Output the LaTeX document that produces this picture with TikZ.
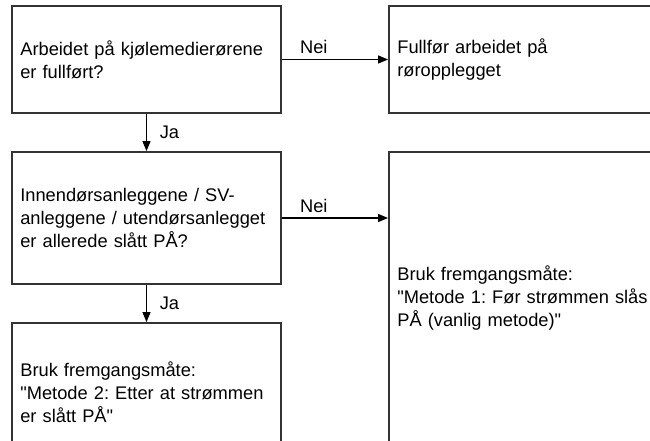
\documentclass[tikz,border=0pt]{standalone}
\usepackage{fontspec}
\setmainfont{Liberation Sans}
\usetikzlibrary{arrows.meta}
\frenchspacing
\hyphenpenalty=10000

\begin{document}
\begin{tikzpicture}[
  >={Triangle[length=3mm,width=2.4mm]},
  every node/.style={font=\fontsize{15.6}{19.4}\selectfont},
  frame/.style={draw=black!80,line width=1.6pt,align=left,inner xsep=0.25cm,inner ysep=0pt},
  leftbox/.style={frame,text width=7.57cm},
  rightbox/.style={frame,text width=8.5cm},
  flow/.style={->,draw=black,line width=1.1pt},
]
\useasboundingbox (0,0) rectangle (19.5,-13.23);

\node[leftbox,minimum height=3.21cm] (pipesdone) at (4.395,-1.785)
  {Arbeidet på kjølemedierørene\\er fullført?};
\node[rightbox,minimum height=3.21cm] (finishpipes) at (16.17,-1.785)
  {Fullfør arbeidet på\\røropplegget};
\node[leftbox,minimum height=3.96cm] (poweron) at (4.395,-6.54)
  {Innendørsanleggene / SV-\\anleggene / utendørsanlegget\\er allerede slått PÅ?};
\node[rightbox,minimum height=8.76cm] (methodone) at (16.17,-8.94)
  {Bruk fremgangsmåte:\\\textquotedbl Metode 1: Før strømmen slås\\PÅ (vanlig metode)\textquotedbl};
\node[leftbox,minimum height=4.14cm] (methodtwo) at (4.395,-11.76)
  {Bruk fremgangsmåte:\\\textquotedbl Metode 2: Etter at strømmen\\er slått PÅ\textquotedbl};

\draw[flow] (pipesdone.east) -- node[above,pos=0.3,yshift=1pt] {Nei} (finishpipes.west);
\draw[flow] (poweron.east) -- node[above,pos=0.3,yshift=1pt] {Nei} (poweron.east -| methodone.west);
\draw[flow] (pipesdone.south) -- node[right,xshift=7.5pt] {Ja} (poweron.north);
\draw[flow] (poweron.south) -- node[right,xshift=7.5pt] {Ja} (methodtwo.north);
\end{tikzpicture}
\end{document}
